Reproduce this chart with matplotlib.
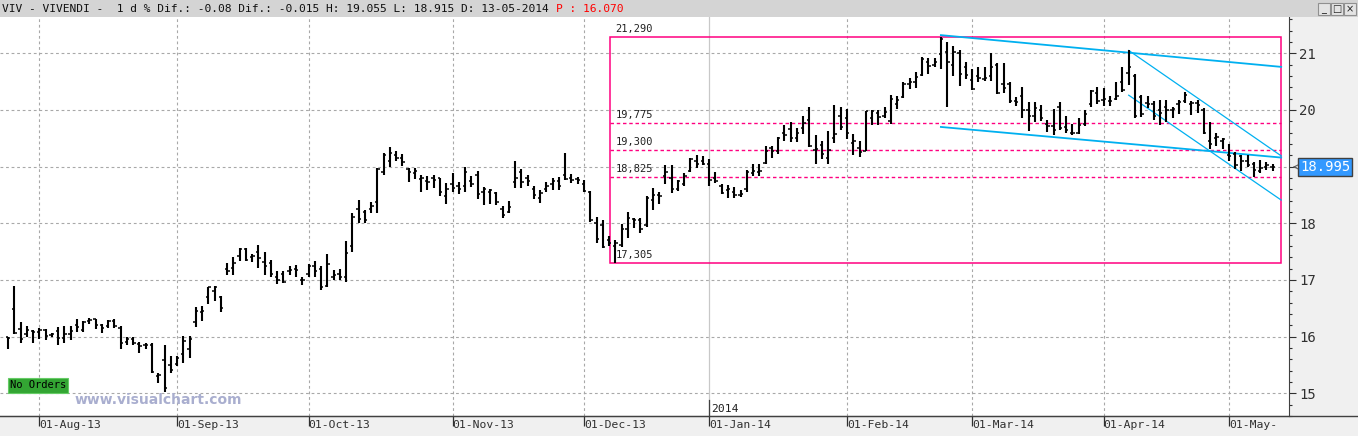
import numpy as np
import pandas as pd
import matplotlib

matplotlib.use("Agg")
import matplotlib.pyplot as plt
from matplotlib.lines import Line2D
from matplotlib.patches import Rectangle
from matplotlib.transforms import blended_transform_factory

# VIV daily bars, 25-Jul-2013 .. 13-May-2014, one value per trading day
opens = [
    16.00, 16.49, 16.14, 16.05, 16.10, 16.08, 16.12, 16.03, 16.10, 15.98,
    16.05, 16.20, 16.12, 16.28, 16.31, 16.20, 16.18, 16.28, 16.15, 15.90,
    15.95, 15.87, 15.85, 15.85, 15.30, 15.58, 15.50, 15.52, 15.70, 15.78,
    16.25, 16.44, 16.70, 16.80, 16.70, 17.20, 17.22, 17.42, 17.55, 17.40,
    17.50, 17.31, 17.30, 17.05, 17.10, 17.15, 17.20, 17.00, 17.10, 17.25,
    17.20, 16.90, 17.05, 17.10, 17.05, 17.60, 18.25, 18.20, 18.25, 18.37,
    18.90, 19.10, 19.20, 19.15, 18.95, 18.88, 18.78, 18.75, 18.80, 18.80,
    18.49, 18.70, 18.65, 18.66, 18.75, 18.85, 18.55, 18.55, 18.53, 18.25,
    18.20, 18.72, 18.90, 18.80, 18.60, 18.45, 18.60, 18.70, 18.75, 18.85,
    18.80, 18.78, 18.70, 18.55, 18.00, 17.97, 17.70, 17.60, 17.62, 17.90,
    18.08, 18.05, 17.97, 18.41, 18.50, 18.84, 18.80, 18.60, 18.70, 18.93,
    19.10, 19.10, 19.05, 18.80, 18.65, 18.58, 18.55, 18.50, 18.61, 18.88,
    18.90, 19.07, 19.32, 19.28, 19.60, 19.66, 19.50, 19.68, 19.82, 19.30,
    19.39, 19.15, 19.50, 19.90, 19.85, 19.42, 19.32, 19.28, 19.85, 19.95,
    19.90, 19.80, 20.10, 20.23, 20.45, 20.50, 20.61, 20.85, 20.80, 20.98,
    21.03, 20.80, 21.00, 20.75, 20.53, 20.60, 20.55, 20.60, 20.80, 20.45,
    20.45, 20.15, 20.24, 20.00, 19.90, 20.00, 19.75, 19.71, 20.05, 19.70,
    19.60, 19.60, 19.75, 20.10, 20.30, 20.18, 20.15, 20.20, 20.50, 20.65,
    20.60, 20.22, 20.12, 20.10, 20.00, 20.05, 20.00, 20.10, 20.15, 20.10,
    20.12, 20.00, 19.45, 19.50, 19.45, 19.20, 19.22, 19.18, 19.10, 19.05,
    18.92, 19.00, 18.99,
]
highs = [
    16.00, 16.90, 16.25, 16.18, 16.12, 16.15, 16.13, 16.07, 16.17, 16.18,
    16.18, 16.32, 16.27, 16.33, 16.32, 16.22, 16.30, 16.31, 16.18, 16.00,
    15.99, 15.90, 15.89, 15.89, 15.36, 15.86, 15.65, 15.65, 16.02, 16.02,
    16.52, 16.54, 16.88, 16.90, 16.71, 17.30, 17.40, 17.56, 17.56, 17.45,
    17.62, 17.49, 17.35, 17.15, 17.16, 17.24, 17.26, 17.06, 17.28, 17.34,
    17.24, 17.45, 17.18, 17.19, 17.68, 18.18, 18.41, 18.24, 18.37, 18.98,
    19.24, 19.35, 19.27, 19.22, 18.98, 18.98, 18.86, 18.84, 18.86, 18.80,
    18.71, 18.88, 18.72, 18.99, 18.84, 18.93, 18.64, 18.60, 18.56, 18.31,
    18.40, 19.10, 18.96, 18.86, 18.65, 18.58, 18.73, 18.80, 18.81, 19.24,
    18.87, 18.81, 18.76, 18.57, 18.12, 18.05, 17.78, 17.71, 17.99, 18.20,
    18.09, 18.09, 18.48, 18.63, 18.56, 19.02, 19.02, 18.77, 18.88, 19.15,
    19.21, 19.19, 19.13, 18.90, 18.70, 18.67, 18.64, 18.59, 18.94, 19.05,
    19.05, 19.37, 19.36, 19.52, 19.73, 19.79, 19.69, 19.89, 20.05, 19.56,
    19.46, 19.62, 20.09, 20.05, 20.02, 19.58, 19.46, 19.99, 20.00, 20.00,
    20.06, 20.26, 20.25, 20.50, 20.57, 20.67, 20.94, 20.91, 20.92, 21.29,
    21.20, 21.12, 21.06, 20.84, 20.72, 20.76, 20.76, 21.00, 20.83, 20.83,
    20.50, 20.22, 20.41, 20.14, 20.14, 20.08, 19.83, 20.02, 20.14, 19.89,
    19.76, 19.85, 20.00, 20.36, 20.41, 20.38, 20.24, 20.50, 20.76, 21.05,
    20.63, 20.26, 20.24, 20.16, 20.17, 20.17, 20.06, 20.18, 20.32, 20.16,
    20.17, 20.04, 19.79, 19.59, 19.51, 19.40, 19.25, 19.20, 19.20, 19.08,
    19.11, 19.08, 19.055,
]
lows = [
    15.78, 16.05, 15.88, 15.99, 15.89, 15.95, 15.94, 15.99, 15.85, 15.88,
    15.94, 16.08, 16.08, 16.22, 16.13, 16.06, 16.15, 16.15, 15.79, 15.86,
    15.85, 15.72, 15.78, 15.36, 15.19, 15.03, 15.35, 15.48, 15.54, 15.63,
    16.17, 16.27, 16.57, 16.63, 16.44, 17.08, 17.08, 17.34, 17.34, 17.31,
    17.22, 17.09, 17.05, 16.93, 16.94, 17.08, 17.06, 16.92, 17.05, 17.05,
    16.82, 16.87, 17.00, 17.00, 16.96, 17.49, 18.00, 18.00, 18.19, 18.18,
    18.86, 19.00, 19.10, 19.01, 18.72, 18.78, 18.56, 18.58, 18.62, 18.49,
    18.34, 18.55, 18.52, 18.55, 18.64, 18.43, 18.33, 18.34, 18.33, 18.09,
    18.19, 18.63, 18.63, 18.65, 18.42, 18.36, 18.55, 18.59, 18.58, 18.76,
    18.71, 18.69, 18.55, 18.03, 17.65, 17.56, 17.60, 17.305, 17.58, 17.74,
    17.91, 17.83, 17.94, 18.24, 18.34, 18.70, 18.53, 18.57, 18.65, 18.90,
    18.98, 19.02, 18.65, 18.71, 18.51, 18.44, 18.44, 18.47, 18.55, 18.84,
    18.84, 19.05, 19.15, 19.22, 19.46, 19.43, 19.43, 19.58, 19.34, 19.05,
    19.14, 19.05, 19.42, 19.64, 19.49, 19.20, 19.17, 19.28, 19.74, 19.74,
    19.85, 19.76, 20.02, 20.21, 20.37, 20.38, 20.60, 20.63, 20.76, 20.73,
    20.05, 20.60, 20.43, 20.54, 20.35, 20.50, 20.51, 20.51, 20.29, 20.30,
    20.12, 20.07, 19.86, 19.63, 19.79, 19.80, 19.61, 19.55, 19.64, 19.59,
    19.55, 19.58, 19.71, 20.05, 20.11, 20.07, 20.07, 20.18, 20.32, 20.44,
    19.85, 19.88, 20.04, 19.83, 19.73, 19.79, 19.86, 19.93, 20.12, 19.91,
    19.95, 19.58, 19.31, 19.37, 19.31, 19.10, 18.96, 18.93, 19.00, 18.82,
    18.88, 18.94, 18.915,
]
closes = [
    15.98, 16.06, 15.96, 16.11, 16.09, 16.12, 16.02, 16.05, 15.98, 16.05,
    16.10, 16.17, 16.26, 16.30, 16.20, 16.15, 16.27, 16.18, 15.88, 15.95,
    15.89, 15.84, 15.86, 15.38, 15.33, 15.10, 15.42, 15.63, 15.92, 15.96,
    16.45, 16.46, 16.87, 16.88, 16.50, 17.15, 17.30, 17.55, 17.36, 17.43,
    17.38, 17.24, 17.10, 17.00, 16.97, 17.18, 17.17, 17.00, 17.25, 17.15,
    16.88, 17.28, 17.09, 17.06, 17.48, 18.12, 18.08, 18.05, 18.30, 18.95,
    19.20, 19.24, 19.16, 19.09, 18.90, 18.92, 18.80, 18.72, 18.76, 18.55,
    18.60, 18.62, 18.60, 18.90, 18.70, 18.52, 18.60, 18.58, 18.38, 18.14,
    18.28, 18.80, 18.73, 18.75, 18.50, 18.53, 18.66, 18.74, 18.66, 18.79,
    18.77, 18.76, 18.57, 18.05, 17.72, 17.58, 17.65, 17.65, 17.90, 18.10,
    18.05, 17.90, 18.45, 18.50, 18.48, 18.90, 18.60, 18.75, 18.84, 19.13,
    19.05, 19.05, 18.76, 18.75, 18.53, 18.60, 18.50, 18.52, 18.90, 18.92,
    18.92, 19.28, 19.28, 19.50, 19.56, 19.51, 19.60, 19.77, 19.37, 19.31,
    19.22, 19.30, 19.58, 19.70, 19.60, 19.45, 19.25, 19.98, 19.98, 19.88,
    19.97, 20.20, 20.17, 20.45, 20.50, 20.58, 20.90, 20.78, 20.84, 21.25,
    20.85, 21.02, 20.63, 20.62, 20.37, 20.57, 20.57, 20.76, 20.30, 20.38,
    20.16, 20.14, 20.00, 19.89, 20.04, 19.85, 19.71, 19.65, 19.69, 19.64,
    19.60, 19.74, 19.92, 20.33, 20.16, 20.20, 20.16, 20.25, 20.36, 20.75,
    19.90, 19.92, 20.10, 19.90, 19.95, 20.00, 20.02, 20.14, 20.27, 20.12,
    20.08, 19.59, 19.40, 19.52, 19.48, 19.19, 19.02, 19.10, 19.02, 18.94,
    18.98, 19.02, 18.995,
]

first_day, last_day = "2013-07-25", "2014-05-13"
holidays = ["2013-12-25", "2013-12-26", "2014-01-01",
            "2014-04-18", "2014-04-21", "2014-05-01"]
month_labels = ["01-Aug-13", "01-Sep-13", "01-Oct-13", "01-Nov-13", "01-Dec-13",
                "01-Jan-14", "01-Feb-14", "01-Mar-14", "01-Apr-14", "01-May-"]
price_ticks = [15, 16, 17, 18, 19, 20, 21]

# retracement box: start day, high, low and the three inner levels
box_start = "2013-12-06"
box_high, box_low = 21.290, 17.305
box_levels = [19.775, 19.300, 18.825]

# trend lines: start day, price at start, price at the right end
trend_lines = [
    ("2014-02-24", 21.32, 20.76),
    ("2014-02-24", 19.70, 19.16),
    ("2014-04-07", 21.05, 19.19),
    ("2014-04-07", 20.26, 18.41),
]

header = "VIV - VIVENDI -  1 d % Dif.: -0.08 Dif.: -0.015 H: 19.055 L: 18.915 D: 13-05-2014"
header_price = "P : 16.070"

MONO = "DejaVu Sans Mono"
MAGENTA = "#FF0080"
CYAN = "#00B0F0"
GRID = "#A8A8A8"
W, H = 1358, 436


def fx(px):
    return px / W


def fy(py):
    return 1 - py / H


days = pd.bdate_range(first_day, last_day).drop(pd.to_datetime(holidays))
x = np.arange(len(days))
month_idx = [i for i in range(1, len(days)) if days[i].month != days[i - 1].month]
last = closes[-1]

fig = plt.figure(figsize=(W / 100, H / 100), dpi=100, facecolor="#F0F0F0")
ax = fig.add_axes([0, fy(416), fx(1289), (416 - 17) / H], facecolor="white")
ax.set_xlim(-1.28, 204.6)
ax.set_ylim(14.60, 21.64)

# grid: dashed price levels, dashed month lines (year start drawn solid)
for p in price_ticks:
    ax.axhline(p, color=GRID, lw=0.8, ls=(0, (2.5, 2.5)), zorder=1)
for i in month_idx:
    if days[i].month == 1:
        ax.axvline(i, color="#C8C8C8", lw=0.9, zorder=1)
        ax.plot([i, i], [14.60, 14.88], color="#404040", lw=0.9, zorder=2)
        ax.text(i + 0.25, 14.635, str(days[i].year), family=MONO, size=8.2,
                va="bottom", ha="left", color="#202020")
    else:
        ax.axvline(i, color=GRID, lw=0.8, ls=(0, (2.5, 2.5)), zorder=1)

# OHLC bars
ax.vlines(x, lows, highs, color="black", lw=1.5, zorder=4)
ax.hlines(opens, x - 0.38, x, color="black", lw=1.1, zorder=4)
ax.hlines(closes, x, x + 0.38, color="black", lw=1.1, zorder=4)

# retracement box
b0 = days.get_loc(pd.Timestamp(box_start)) + 0.2
b1 = len(days) + 0.35
ax.add_patch(Rectangle((b0, box_low), b1 - b0, box_high - box_low, fill=False,
                       ec=MAGENTA, lw=1.1, zorder=3))
for lv in box_levels:
    ax.plot([b0, b1], [lv, lv], color=MAGENTA, lw=1.0, ls=(0, (2.5, 2)), zorder=3)
for lv in [box_high] + box_levels + [box_low]:
    ax.text(b0 + 0.8, lv + 0.05, f"{lv:.3f}".replace(".", ","), family=MONO,
            size=7.5, va="bottom", ha="left", color="#202020", zorder=5)

# trend lines
for start, p0, p1 in trend_lines:
    s = days.get_loc(pd.Timestamp(start))
    lw = 1.3 if s < 160 else 0.9
    ax.plot([s, b1], [p0, p1], color=CYAN, lw=lw, zorder=3.5)

# axes furniture; the level under the last-price tag is left unlabelled
for side in ("top", "left"):
    ax.spines[side].set_visible(False)
ax.spines["right"].set_color("#404040")
ax.spines["bottom"].set_color("#404040")
ax.yaxis.tick_right()
ax.set_yticks(price_ticks, ["" if abs(p - last) < 0.2 else str(p) for p in price_ticks])
ax.set_yticks(np.arange(14.6, 21.65, 0.2), minor=True)
ax.tick_params(axis="y", which="major", length=5, width=0.8, pad=2.5,
               labelsize=10, colors="#303030")
ax.tick_params(axis="y", which="minor", length=2.5, width=0.8, colors="#303030")
ax.set_xticks(month_idx, month_labels)
ax.tick_params(axis="x", which="major", length=7, width=0.9, pad=-4,
               labelsize=8.2, colors="#303030")
for lab in ax.get_xticklabels() + ax.get_yticklabels():
    lab.set_family(MONO)
for lab in ax.get_xticklabels():
    lab.set_ha("left")

# last price tag
trans = blended_transform_factory(ax.transAxes, ax.transData)
ax.annotate("", xy=(1.0008, last), xytext=(1.007, last), xycoords=trans,
            textcoords=trans, arrowprops=dict(arrowstyle="->", color="#606060", lw=0.8),
            annotation_clip=False)
ax.text(1.0085, last, f"{last:.3f}", transform=trans, family=MONO, size=10,
        color="white", va="center", ha="left", clip_on=False, zorder=10,
        bbox=dict(boxstyle="square,pad=0.15", fc="#3399FF", ec="#404040", lw=1))

# frame: bottom rule, header bar, window buttons
fig.add_artist(Line2D([0, 1], [fy(416), fy(416)], color="#404040", lw=1))
fig.add_artist(Rectangle((0, fy(17)), 1, 17 / H, transform=fig.transFigure,
                         fc="#D4D4D4", ec="none", zorder=5))
head = fig.text(fx(2), fy(8.5), header, family=MONO, size=8.15, va="center",
                color="#101010", zorder=6)
fig.canvas.draw()
head_end = head.get_window_extent().x1
fig.text(fx(head_end + 6.8), fy(8.5), header_price, family=MONO, size=8.15,
         va="center", color="red", zorder=6)
for k, sym in enumerate(["_", "\u25a1", "\u00d7"]):
    x0 = 1318 + 13 * k
    fig.add_artist(Rectangle((fx(x0), fy(15)), fx(12), 12 / H, transform=fig.transFigure,
                             fc="#E4E4E4", ec="#909090", lw=0.8, zorder=6))
    fig.text(fx(x0 + 6), fy(9), sym, family="DejaVu Sans", size=7, ha="center",
             va="center", color="#202020", zorder=7)

# badges
fig.add_artist(Rectangle((fx(8), fy(393)), fx(60), 15 / H, transform=fig.transFigure,
                         fc="#33A533", ec="#66CC66", lw=0.8, zorder=6))
fig.text(fx(38), fy(385.5), "No Orders", family=MONO, size=7.5, ha="center",
         va="center", color="black", zorder=7)
fig.text(fx(75), fy(400), "www.visualchart.com", family="DejaVu Sans", weight="bold",
         size=10, va="center", ha="left", color="#A9AECF", zorder=6)

fig.savefig("out.png", dpi=100, facecolor=fig.get_facecolor())
